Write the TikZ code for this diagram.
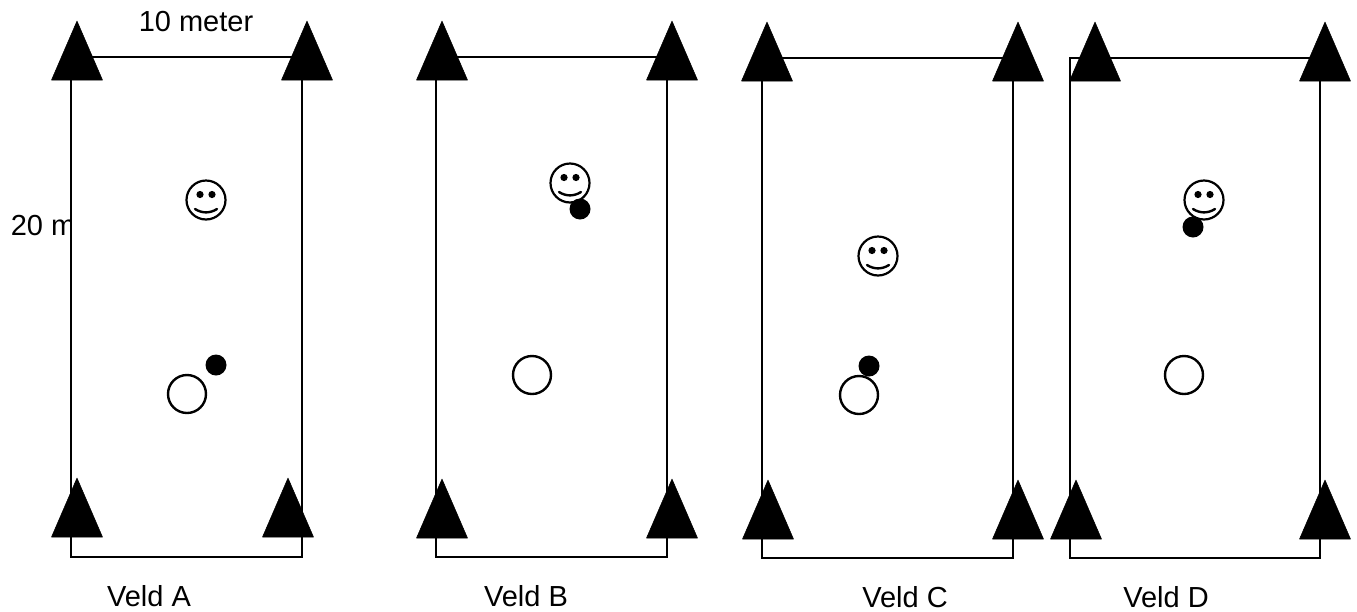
\documentclass[tikz,border=0pt]{standalone}
\usepackage{fontspec}
\setmainfont{Liberation Sans}
\tikzset{
  x=1pt,y=-1pt,
  fieldbox/.style={draw=black,line width=2.8pt,fill=white},
  cone/.style={fill=black,draw=black,line width=0.5pt,line join=round},
  openball/.style={draw=black,line width=2.4pt,fill=white},
  blackball/.style={fill=black},
  facering/.style={draw=black,line width=2.2pt,fill=white},
  label/.style={font=\fontsize{29}{32}\selectfont,inner sep=0pt,text=black,anchor=center}
}
\newcommand{\conemark}[2]{\fill[cone] (#1,#2) -- ++(-25.5,59) -- ++(51,0) -- cycle;}
\newcommand{\smiley}[2]{%
  \draw[facering] (#1,#2) circle[radius=19.5];
  \fill[black] (#1-6,#2-5.5) circle[radius=3.6];
  \fill[black] (#1+6,#2-5.5) circle[radius=3.6];
  \draw[black,line width=2.4pt,line cap=round] (#1-11,#2+9) .. controls (#1-4,#2+13.5) and (#1+4,#2+13.5) .. (#1+11,#2+9);
}
\begin{document}
\begin{tikzpicture}
\useasboundingbox (0,0) rectangle (1357,611);
\fill[white] (0,0) rectangle (1357,611);
\node[label] (tw) at (43,226) {20 m};
% Veld A
\draw[fieldbox] (71,57) rectangle (302,557);
\conemark{77}{21}\conemark{307}{21}\conemark{77}{478}\conemark{288}{478}
\smiley{206}{200}
\draw[openball] (187,394) circle[radius=19];
\fill[blackball] (216,365) circle[radius=10.5];
% Veld B
\draw[fieldbox] (436,57) rectangle (667,557);
\conemark{442}{21}\conemark{672}{21}\conemark{442}{479}\conemark{672}{479}
\smiley{570}{183}
\fill[blackball] (580,209) circle[radius=10.5];
\draw[openball] (532,375) circle[radius=19];
% Veld C
\draw[fieldbox] (762,58) rectangle (1013,558);
\conemark{767}{22}\conemark{1018}{22}\conemark{768}{480}\conemark{1018}{480}
\smiley{878}{256}
\fill[blackball] (869,366) circle[radius=10.5];
\draw[openball] (859,395) circle[radius=19];
% Veld D
\draw[fieldbox] (1070,58) rectangle (1320,558);
\conemark{1095}{22}\conemark{1325}{22}\conemark{1076}{480}\conemark{1325}{480}
\smiley{1204}{200}
\fill[blackball] (1193,227) circle[radius=10.5];
\draw[openball] (1184,375) circle[radius=19];
% Labels
\node[label] (ten) at (196,22) {10 meter};
\node[label] (va) at (149,596) {Veld A};
\node[label] (vb) at (526,596) {Veld B};
\node[label] (vc) at (905,597) {Veld C};
\node[label] (vd) at (1166,597) {Veld D};
\end{tikzpicture}
\end{document}
